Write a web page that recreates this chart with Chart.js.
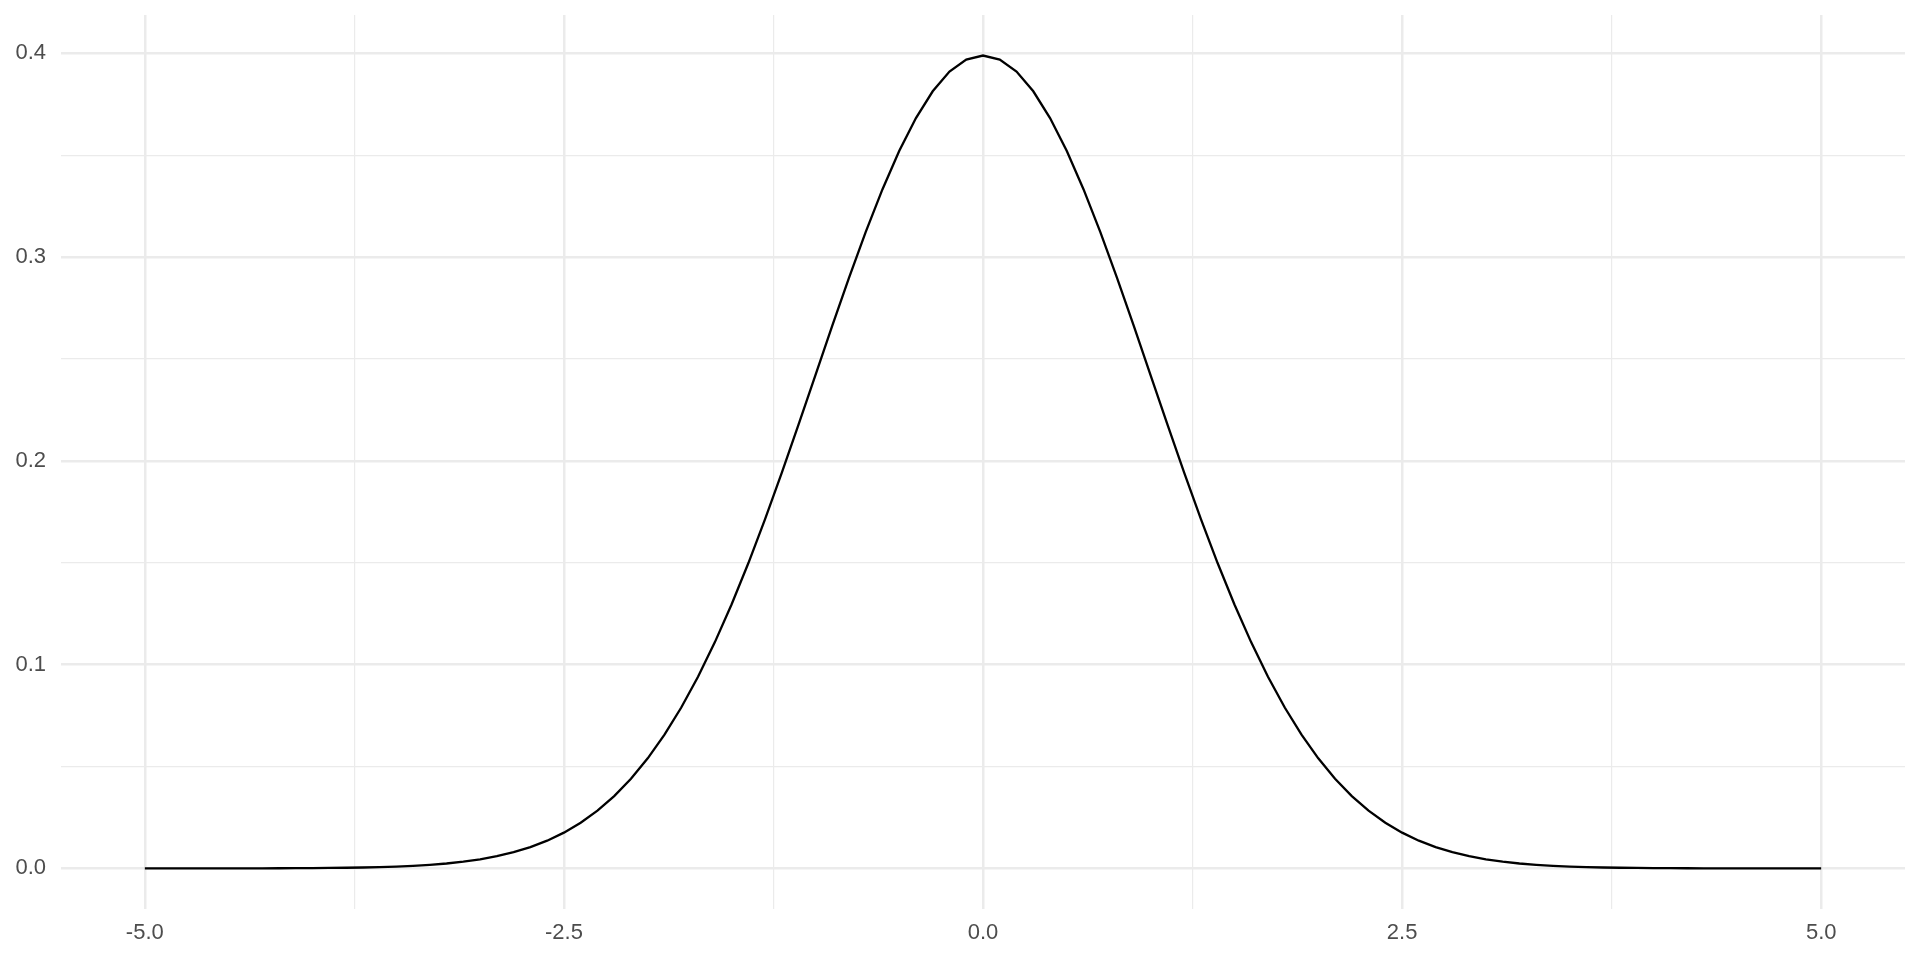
<!DOCTYPE html>
<html>
<head>
<meta charset="utf-8">
<script src="https://cdn.jsdelivr.net/npm/chart.js@4"></script>
<style>
  html, body { margin: 0; padding: 0; background: #ffffff; }
  #wrap { width: 1920px; height: 960px; }
</style>
</head>
<body>
<div id="wrap"><canvas id="c" width="1920" height="960"></canvas></div>
<script>
// Sample points along the x axis
const xValues = [
  -5.0, -4.9, -4.8, -4.7, -4.6, -4.5, -4.4, -4.3, -4.2, -4.1,
  -4.0, -3.9, -3.8, -3.7, -3.6, -3.5, -3.4, -3.3, -3.2, -3.1,
  -3.0, -2.9, -2.8, -2.7, -2.6, -2.5, -2.4, -2.3, -2.2, -2.1,
  -2.0, -1.9, -1.8, -1.7, -1.6, -1.5, -1.4, -1.3, -1.2, -1.1,
  -1.0, -0.9, -0.8, -0.7, -0.6, -0.5, -0.4, -0.3, -0.2, -0.1,
   0.0,  0.1,  0.2,  0.3,  0.4,  0.5,  0.6,  0.7,  0.8,  0.9,
   1.0,  1.1,  1.2,  1.3,  1.4,  1.5,  1.6,  1.7,  1.8,  1.9,
   2.0,  2.1,  2.2,  2.3,  2.4,  2.5,  2.6,  2.7,  2.8,  2.9,
   3.0,  3.1,  3.2,  3.3,  3.4,  3.5,  3.6,  3.7,  3.8,  3.9,
   4.0,  4.1,  4.2,  4.3,  4.4,  4.5,  4.6,  4.7,  4.8,  4.9,
   5.0
];
// Density values
const densityValues = [
  0.00000, 0.00000, 0.00000, 0.00001, 0.00001, 0.00002, 0.00002, 0.00004, 0.00006, 0.00009,
  0.00013, 0.00020, 0.00029, 0.00042, 0.00061, 0.00087, 0.00123, 0.00172, 0.00238, 0.00327,
  0.00443, 0.00595, 0.00792, 0.01042, 0.01358, 0.01753, 0.02239, 0.02833, 0.03547, 0.04398,
  0.05399, 0.06562, 0.07895, 0.09405, 0.11092, 0.12952, 0.14973, 0.17137, 0.19419, 0.21785,
  0.24197, 0.26609, 0.28969, 0.31225, 0.33322, 0.35207, 0.36827, 0.38139, 0.39104, 0.39695,
  0.39894, 0.39695, 0.39104, 0.38139, 0.36827, 0.35207, 0.33322, 0.31225, 0.28969, 0.26609,
  0.24197, 0.21785, 0.19419, 0.17137, 0.14973, 0.12952, 0.11092, 0.09405, 0.07895, 0.06562,
  0.05399, 0.04398, 0.03547, 0.02833, 0.02239, 0.01753, 0.01358, 0.01042, 0.00792, 0.00595,
  0.00443, 0.00327, 0.00238, 0.00172, 0.00123, 0.00087, 0.00061, 0.00042, 0.00029, 0.00020,
  0.00013, 0.00009, 0.00006, 0.00004, 0.00002, 0.00002, 0.00001, 0.00001, 0.00000, 0.00000,
  0.00000
];
// Axis ticks (major with labels, minor without)
const xMajorTicks = [-5.0, -2.5, 0.0, 2.5, 5.0];
const xTickLabels = ["-5.0", "-2.5", "0.0", "2.5", "5.0"];
const xMinorTicks = [-3.75, -1.25, 1.25, 3.75];
const yMajorTicks = [0.0, 0.1, 0.2, 0.3, 0.4];
const yTickLabels = ["0.0", "0.1", "0.2", "0.3", "0.4"];
const yMinorTicks = [0.05, 0.15, 0.25, 0.35];
const xLimits = [-5.5, 5.5];
const yLimits = [-0.019947, 0.418831];

const GRID = '#EBEBEB';
const TEXT = '#4D4D4D';
const FONT = { family: '"Liberation Sans", Arial, Helvetica, sans-serif', size: 22 };

function isMajor(list, v) { return list.some(m => Math.abs(m - v) < 1e-9); }
function allTicks(major, minor) { return major.concat(minor).sort((a, b) => a - b); }
function clearPad(scale) { scale.paddingTop = 0; scale.paddingBottom = 0; scale.paddingLeft = 0; scale.paddingRight = 0; }

const points = xValues.map((x, i) => ({ x: x, y: densityValues[i] }));

new Chart(document.getElementById('c'), {
  type: 'line',
  data: {
    datasets: [{
      data: points,
      borderColor: '#000000',
      borderWidth: 2.3,
      pointRadius: 0,
      tension: 0,
      fill: false
    }]
  },
  options: {
    responsive: false,
    animation: false,
    devicePixelRatio: 1,
    layout: { padding: { top: 15, right: 15, left: 0, bottom: 0 } },
    plugins: { legend: { display: false }, tooltip: { enabled: false } },
    scales: {
      x: {
        type: 'linear',
        min: xLimits[0],
        max: xLimits[1],
        afterBuildTicks: (axis) => { axis.ticks = allTicks(xMajorTicks, xMinorTicks).map(v => ({ value: v })); },
        afterFit: (scale) => { scale.height = 51; clearPad(scale); },
        border: { display: false },
        grid: {
          color: GRID,
          drawTicks: false,
          lineWidth: (ctx) => (ctx.tick && isMajor(xMajorTicks, ctx.tick.value)) ? 2.5 : 1.2
        },
        ticks: {
          autoSkip: false,
          maxRotation: 0,
          padding: 11,
          color: TEXT,
          font: FONT,
          callback: (value) => {
            const i = xMajorTicks.findIndex(m => Math.abs(m - value) < 1e-9);
            return i >= 0 ? xTickLabels[i] : '';
          }
        }
      },
      y: {
        type: 'linear',
        min: yLimits[0],
        max: yLimits[1],
        afterBuildTicks: (axis) => { axis.ticks = allTicks(yMajorTicks, yMinorTicks).map(v => ({ value: v })); },
        afterFit: (scale) => { scale.width = 61; clearPad(scale); },
        border: { display: false },
        grid: {
          color: GRID,
          drawTicks: false,
          lineWidth: (ctx) => (ctx.tick && isMajor(yMajorTicks, ctx.tick.value)) ? 2.5 : 1.2
        },
        ticks: {
          autoSkip: false,
          padding: 15,
          color: TEXT,
          font: FONT,
          callback: (value) => {
            const i = yMajorTicks.findIndex(m => Math.abs(m - value) < 1e-9);
            return i >= 0 ? yTickLabels[i] : '';
          }
        }
      }
    }
  }
});
</script>
</body>
</html>
